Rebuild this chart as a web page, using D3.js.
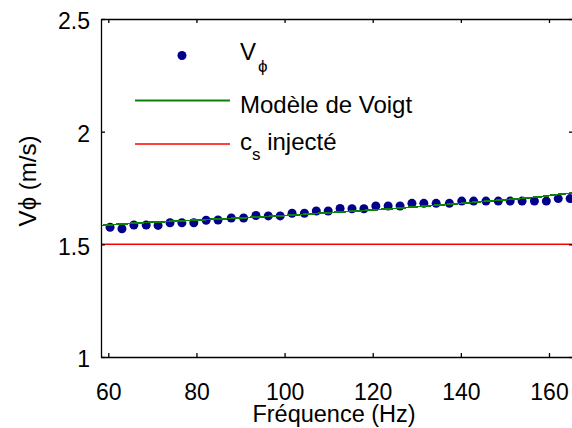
<!DOCTYPE html>
<html>
<head>
<meta charset="utf-8">
<script src="https://cdn.jsdelivr.net/npm/d3@7"></script>
<style>
  body { margin: 0; background: #fff; }
  svg { display: block; }
  text { font-family: "Liberation Sans", Arial, sans-serif; fill: #000; }
</style>
</head>
<body>
<svg width="572" height="428"></svg>
<script>
/*
Data
*/
var freqs = [60.4, 63.1, 65.8, 68.6, 71.3, 74.0, 76.7, 79.4, 82.2, 84.9,
             87.9, 90.7, 93.5, 96.3, 99.0, 101.7, 104.5, 107.2, 109.9, 112.6,
             115.3, 118.0, 120.7, 123.5, 126.2, 128.9, 131.6, 134.4, 137.4, 140.2,
             142.9, 145.7, 148.5, 151.2, 153.9, 156.7, 159.4, 162.1, 164.8];
var vphi = [1.576, 1.569, 1.586, 1.586, 1.584, 1.596, 1.596, 1.596, 1.607, 1.608,
            1.617, 1.617, 1.628, 1.626, 1.626, 1.638, 1.638, 1.648, 1.648, 1.659,
            1.658, 1.658, 1.670, 1.670, 1.670, 1.682, 1.682, 1.682, 1.682, 1.692,
            1.692, 1.692, 1.692, 1.692, 1.692, 1.692, 1.692, 1.703, 1.703];

var modelFreqs = [58.3, 62.7, 68.7, 80.4, 90.8, 100.3, 109.0, 117.0, 125.0,
                  132.6, 139.6, 146.1, 152.8, 158.4, 163.0, 165.5];
var modelVals = [1.583, 1.590, 1.597, 1.608, 1.618, 1.628, 1.639, 1.649, 1.659,
                 1.671, 1.681, 1.692, 1.702, 1.712, 1.724, 1.727];

var csInjected = 1.5;

var xTicks = [60, 80, 100, 120, 140, 160],
    yTicks = [1, 1.5, 2, 2.5];

/*
SVG / margins
*/
var svg = d3.select("svg"),
    margin = {top: 19, right: -1, bottom: 71, left: 101},
    width = svg.attr("width") - margin.left - margin.right,
    height = svg.attr("height") - margin.top - margin.bottom,
    g = svg.append("g").attr("transform", "translate(" + margin.left + "," + margin.top + ")");

var xScale = d3.scaleLinear().domain([58.34, 165.45]).range([0, width]),
    yScale = d3.scaleLinear().domain([1, 2.5]).range([height, 0]);

var points = freqs.map(function(f, i) { return {f: f, v: vphi[i]}; });
var model = modelFreqs.map(function(f, i) { return {f: f, v: modelVals[i]}; });

var line = d3.line()
    .x(function(d) { return xScale(d.f); })
    .y(function(d) { return yScale(d.v); });

/*
Marks: dots, then model, then injected speed
*/
g.selectAll(".dot")
    .data(points)
  .enter().append("circle")
    .attr("class", "dot")
    .attr("cx", function(d) { return xScale(d.f); })
    .attr("cy", function(d) { return yScale(d.v); })
    .attr("r", 4.5)
    .attr("fill", "#00008b");

g.append("path")
    .datum(model)
    .attr("d", line)
    .attr("fill", "none")
    .attr("stroke", "#0a820a")
    .attr("stroke-width", 1.8)
    .attr("shape-rendering", "crispEdges");

g.append("path")
    .datum([{f: 58.34, v: csInjected}, {f: 165.45, v: csInjected}])
    .attr("d", line)
    .attr("fill", "none")
    .attr("stroke", "#ff0000")
    .attr("stroke-width", 1.5);

/*
Axes: ticks point inward on all four sides
*/
function styleAxis(sel) {
  sel.selectAll("path, line").attr("stroke", "#000").attr("stroke-width", 1.3);
  sel.selectAll("text")
    .style("font-family", "'Liberation Sans', Arial, sans-serif")
    .style("font-size", "23px")
    .attr("fill", "#000");
}

g.append("g")
    .attr("transform", "translate(0," + height + ")")
    .call(d3.axisBottom(xScale).tickValues(xTicks).tickSizeInner(-4).tickSizeOuter(0).tickPadding(26))
    .call(styleAxis)
    .selectAll("text").attr("dy", "0.72em");

g.append("g")
    .call(d3.axisTop(xScale).tickValues(xTicks).tickSizeInner(-4).tickSizeOuter(0).tickFormat(""))
    .call(styleAxis);

g.append("g")
    .call(d3.axisLeft(yScale).tickValues(yTicks).tickSizeInner(-4).tickSizeOuter(0).tickPadding(11)
          .tickFormat(d3.format("")))
    .call(styleAxis)
    .selectAll("text").attr("dy", "0.42em");

g.append("g")
    .attr("transform", "translate(" + width + ",0)")
    .call(d3.axisRight(yScale).tickValues(yTicks).tickSizeInner(-4).tickSizeOuter(0).tickFormat(""))
    .call(styleAxis);

/*
Axis titles
*/
svg.append("text")
    .attr("x", 334)
    .attr("y", 422)
    .attr("text-anchor", "middle")
    .style("font-size", "23.5px")
    .text("Fréquence (Hz)");

svg.append("text")
    .attr("transform", "translate(36,181)rotate(-90)")
    .attr("text-anchor", "middle")
    .style("font-size", "24px")
    .text("Vϕ (m/s)");

/*
Legend
*/
var legend = svg.append("g");

legend.append("circle")
    .attr("cx", 182).attr("cy", 55.5).attr("r", 4.5)
    .attr("fill", "#00008b");

var t1 = legend.append("text").attr("x", 240).attr("y", 60).style("font-size", "24px");
t1.append("tspan").text("V");
t1.append("tspan").attr("dy", 12).attr("dx", 2).style("font-size", "17px").text("ϕ");

legend.append("line")
    .attr("x1", 135).attr("x2", 230).attr("y1", 100.5).attr("y2", 100.5)
    .attr("stroke", "#0a820a").attr("stroke-width", 1.8);

legend.append("text").attr("x", 240).attr("y", 112.5)
    .style("font-size", "24px")
    .text("Modèle de Voigt");

legend.append("line")
    .attr("x1", 135).attr("x2", 230).attr("y1", 144).attr("y2", 144)
    .attr("stroke", "#ff0000").attr("stroke-width", 1.5);

var t3 = legend.append("text").attr("x", 240).attr("y", 150).style("font-size", "24px");
t3.append("tspan").text("c");
t3.append("tspan").attr("dy", 10).style("font-size", "17px").text("s");
t3.append("tspan").attr("dy", -10).text(" injecté");
</script>
</body>
</html>
